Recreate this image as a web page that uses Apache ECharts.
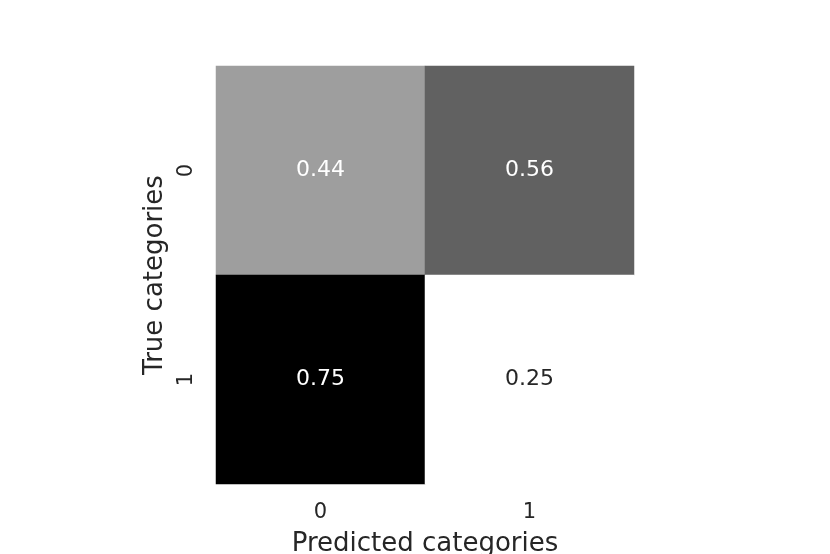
<!DOCTYPE html>
<html>
<head>
<meta charset="utf-8">
<script src="https://cdn.jsdelivr.net/npm/echarts@6/dist/echarts.min.js"></script>
<style>html,body{margin:0;padding:0;background:#fff;}#c{width:830px;height:554px;}</style>
</head>
<body>
<div id="c"></div>
<script>
var xCategories = ['0', '1'];
var yCategories = ['0', '1'];
var row0 = [0.44, 0.56];
var row1 = [0.75, 0.25];
var xTitle = 'Predicted categories';
var yTitle = 'True categories';

var rows = [row0, row1];
var data = [];
rows.forEach(function (r, yi) {
  r.forEach(function (v, xi) {
    data.push({
      value: [xi, yi, v],
      label: { color: v > 0.4 ? '#ffffff' : '#262626' }
    });
  });
});

var font = 'DejaVu Sans';
var chart = echarts.init(document.getElementById('c'));
chart.setOption({
  backgroundColor: '#ffffff',
  animation: false,
  grid: { left: 216, top: 66, width: 418, height: 418, outerBoundsMode: 'none', containLabel: false },
  xAxis: {
    type: 'category', data: xCategories,
    axisLine: { show: false }, axisTick: { show: false }, splitLine: { show: false },
    axisLabel: { color: '#262626', fontFamily: font, fontSize: 21, margin: 18 },
    name: xTitle, nameLocation: 'middle', nameGap: 47,
    nameTextStyle: { color: '#262626', fontFamily: font, fontSize: 26 }
  },
  yAxis: {
    type: 'category', data: yCategories, inverse: true,
    axisLine: { show: false }, axisTick: { show: false }, splitLine: { show: false },
    axisLabel: { color: '#262626', fontFamily: font, fontSize: 21, margin: 19, rotate: 90 },
    name: yTitle, nameLocation: 'middle', nameGap: 41, nameRotate: 90,
    nameTextStyle: { color: '#262626', fontFamily: font, fontSize: 26 }
  },
  visualMap: {
    show: false, min: 0.25, max: 0.75, dimension: 2,
    inRange: { color: ['#ffffff', '#000000'] }
  },
  series: [{
    type: 'heatmap',
    data: data,
    label: {
      show: true, fontFamily: font, fontSize: 22,
      formatter: function (p) { return p.value[2].toFixed(2); }
    },
    itemStyle: { borderWidth: 0 },
    emphasis: { disabled: true }
  }]
});
</script>
</body>
</html>
